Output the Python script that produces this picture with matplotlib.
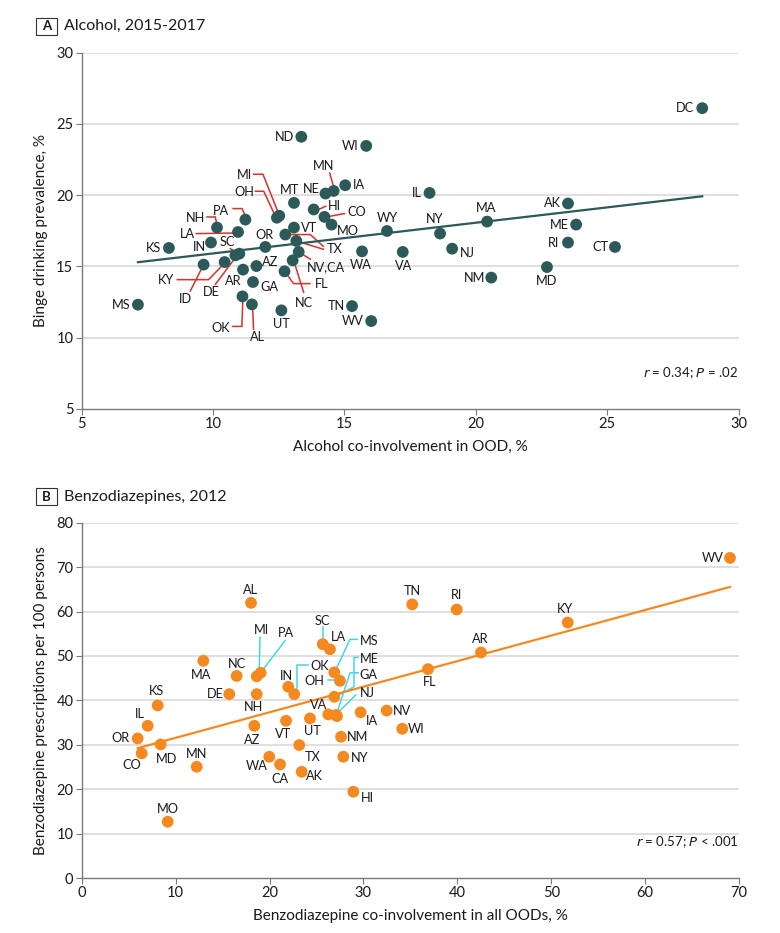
import numpy as np
import matplotlib
matplotlib.use("Agg")
import matplotlib.pyplot as plt
from matplotlib.patches import Rectangle

plt.rcParams['font.family'] = ['Lato', 'DejaVu Sans']

# ---------------- Panel A data: Alcohol, 2015-2017 ----------------
a_states = ["DC", "ND", "WI", "IA", "MN", "NE", "MT", "HI", "CO", "MO", "MI", "OH",
            "PA", "NH", "LA", "VT", "OR", "TX", "NV", "CA", "IN", "KS", "WA", "NC",
            "FL", "SC", "DE", "KY", "ID", "AZ", "AR", "GA", "OK", "AL", "UT", "TN",
            "WV", "MS", "IL", "AK", "ME", "RI", "CT", "MD", "NM", "MA", "NY", "NJ",
            "WY", "VA"]
a_x = [28.62, 13.36, 15.83, 15.03, 14.59, 14.28, 13.08, 13.83, 14.24, 14.51, 12.52, 12.43,
       11.23, 10.15, 10.95, 13.08, 11.99, 12.75, 13.17, 13.26, 9.92, 8.32, 15.67, 13.03,
       12.72, 11.00, 10.85, 10.44, 9.64, 11.65, 11.14, 11.52, 11.12, 11.48, 12.60, 15.29,
       16.02, 7.14, 18.24, 23.51, 23.82, 23.51, 25.30, 22.71, 20.59, 20.43, 18.64, 19.10,
       16.62, 17.22]
a_y = [26.11, 24.10, 23.46, 20.70, 20.30, 20.12, 19.46, 19.00, 18.48, 17.94, 18.56, 18.42,
       18.29, 17.73, 17.42, 17.73, 16.37, 17.24, 16.79, 16.02, 16.68, 16.30, 16.06, 15.43,
       14.66, 15.90, 15.78, 15.31, 15.13, 15.03, 14.78, 13.91, 12.90, 12.34, 11.92, 12.22,
       11.17, 12.32, 20.16, 19.42, 17.94, 16.68, 16.37, 14.96, 14.22, 18.15, 17.31, 16.25,
       17.49, 16.02]
a_xticks = [5, 10, 15, 20, 25, 30]
a_yticks = [5, 10, 15, 20, 25, 30]
a_title = "Alcohol, 2015-2017"
a_xlabel = "Alcohol co-involvement in OOD, %"
a_ylabel = "Binge drinking prevalence, %"
a_stat = ("0.34", "= .02")

# ---------------- Panel B data: Benzodiazepines, 2012 ----------------
b_states = ["WV", "TN", "RI", "KY", "AR", "FL", "AL", "SC", "LA", "MS", "ME", "GA",
            "NJ", "OK", "OH", "MI", "PA", "MA", "NC", "IN", "DE", "NH", "KS", "IL",
            "OR", "CO", "MD", "MN", "MO", "AZ", "VT", "UT", "VA", "IA", "NV", "WI",
            "NM", "TX", "WA", "CA", "AK", "NY", "HI"]
b_x = [69.04, 35.20, 39.94, 51.76, 42.52, 36.88, 18.03, 25.67, 26.44, 26.90, 26.90, 27.19,
       27.08, 22.64, 27.50, 18.64, 19.06, 12.95, 16.50, 22.00, 15.72, 18.64, 8.09, 7.03,
       5.96, 6.39, 8.41, 12.25, 9.16, 18.38, 21.76, 24.31, 26.26, 29.71, 32.48, 34.14,
       27.62, 23.17, 19.98, 21.12, 23.43, 27.86, 28.93]
b_y = [72.07, 61.60, 60.46, 57.53, 50.78, 47.03, 61.95, 52.65, 51.50, 46.30, 40.80, 36.45,
       36.70, 41.40, 44.40, 45.40, 46.20, 48.90, 45.50, 43.05, 41.40, 41.40, 38.85, 34.27,
       31.43, 28.06, 30.08, 25.05, 12.67, 34.27, 35.40, 35.93, 36.84, 37.30, 37.70, 33.60,
       31.80, 29.93, 27.30, 25.58, 23.92, 27.30, 19.42]
b_xticks = [0, 10, 20, 30, 40, 50, 60, 70]
b_yticks = [0, 10, 20, 30, 40, 50, 60, 70, 80]
b_title = "Benzodiazepines, 2012"
b_xlabel = "Benzodiazepine co-involvement in all OODs, %"
b_ylabel = "Benzodiazepine prescriptions per 100 persons"
b_stat = ("0.57", "< .001")

# ---------------- label placement (pixel offsets from the dot, +y down) ----------------
a_label_off = {
    "DC": (-17, 0), "ND": (-17, 0), "WI": (-16, 0), "IA": (14, 0), "MN": (-10, -25),
    "NE": (-14, -5), "MT": (-4, -13), "HI": (21, -3), "CO": (32, -5), "MO": (16, 6),
    "MI": (-35, -41), "OH": (-33, -26), "PA": (-24, -9), "NH": (-22, -10), "LA": (-51, 2),
    "VT": (15, 0), "OR": (-1, -12), "TX": (49, 14), "NV": None, "CA": (27, 15),
    "IN": (-12, 4), "KS": (-15, 0), "WA": (-1, 14), "NC": (11, 43), "FL": (37, 13),
    "SC": (-12, -12), "DE": (-24, 37), "KY": (-59, 18), "ID": (-18, 34), "AZ": (14, -4),
    "AR": (-10, 11), "GA": (16, 5), "OK": (-22, 32), "AL": (6, 33), "UT": (0, 14),
    "TN": (-16, 0), "WV": (-18, 0), "MS": (-17, 0), "IL": (-13, 0), "AK": (-16, 0),
    "ME": (-17, 0), "RI": (-14, 0), "CT": (-15, 0), "MD": (0, 14), "NM": (-17, 0),
    "MA": (-1, -14), "NY": (-5, -15), "NJ": (15, 4), "WY": (0, -13), "VA": (1, 14),
}
a_label_text = {"CA": "NV,CA"}
a_leaders = {
    "MN": [(-4, -18), (0, -4)],
    "MI": [(-25.7, -41.5), (-16.3, -41.5), (-0.3, -1.2)],
    "OH": [(-21.5, -26.5), (-13.2, -26.5), (-1.5, -1.5)],
    "HI": [(5, 0), (12, -3.3)],
    "CO": [(2.7, 0), (20, -3.4)],
    "PA": [(-12.3, -11), (-3.3, -11), (0.3, -2.6)],
    "NH": [(-10, -10.6), (-1.7, -10.6), (0, -2.3)],
    "LA": [(-41.7, 1.6), (-1, 1)],
    "SC": [(-9, -5), (-0.7, 0)],
    "TX": [(0, 0), (25, 0), (38, 11.7)],
    "NV": [(0, 0), (27, 8.3)],
    "CA": [(0, 0), (11.7, 7.3)],
    "FL": [(25.4, 12.3), (9.0, 12.3), (0.7, 0.7)],
    "NC": [(11, 32), (1, 0)],
    "KY": [(-47.3, 17.6), (-16, 17.6), (-0.3, 1.3)],
    "ID": [(-13.3, 26.4), (0, 0)],
    "DE": [(-20, 29), (1.7, 0)],
    "OK": [(-9.6, 30), (-0.6, 30), (0.4, 2.3)],
    "AL": [(1.6, 25), (0.6, 1)],
}

b_label_off = {
    "WV": (-17, 0), "TN": (0, -13), "RI": (0, -14), "KY": (-3, -13), "AR": (-1, -13),
    "FL": (2, 13), "AL": (0, -13), "SC": (0, -23), "LA": (8, -12), "MS": (35, -31),
    "ME": (35, -38), "GA": (31, -41), "NJ": (31, -22), "OK": (25, -28), "OH": (-26, 0),
    "MI": (5, -46), "PA": (25, -40), "MA": (-2, 14), "NC": (0, -12), "IN": (-2, -11),
    "DE": (-14, 0), "NH": (-3, 13), "KS": (-1, -14), "IL": (-8, -12), "OR": (-17, 0),
    "CO": (-10, 12), "MD": (6, 15), "MN": (0, -13), "MO": (0, -13), "AZ": (-2, 14),
    "VT": (-3, 13), "UT": (2, 13), "VA": (-10, -9), "IA": (11, 9), "NV": (15, 0),
    "WI": (14, 0), "NM": (17, 0), "TX": (13, 12), "WA": (-13, 9), "CA": (0, 15),
    "AK": (13, 4), "NY": (16, 1), "HI": (14, 6),
}
b_leaders = {
    "SC": [(0, -16.7), (0, -2.3)],
    "MS": [(23, -33), (15.7, -33), (0.7, -0.6)],
    "ME": [(23.7, -39.4), (19.7, -39.4), (19.7, -10), (2.4, -0.7)],
    "GA": [(21, -43.3), (13, -43.3), (-0.3, -2.7)],
    "NJ": [(19.7, -20), (1.3, -1.7)],
    "OK": [(13.7, -29), (2.4, -29), (2.4, -0.7)],
    "OH": [(-12.3, -0.7), (-2.7, -0.7)],
    "MI": [(3.3, -39.3), (2.3, -1)],
    "PA": [(24.3, -32), (-0.7, 0.6)],
}

W, H = 780, 933
fig = plt.figure(figsize=(W / 100, H / 100), dpi=100)

GRID = "#d9d9d9"
SPINE = "#7a7a7a"
TXT = "#1a1a1a"


def make_axes(left, top, right, bottom):
    return fig.add_axes([left / W, 1 - bottom / H, (right - left) / W, (bottom - top) / H])


def style(ax, xticks, yticks):
    ax.set_xlim(xticks[0], xticks[-1])
    ax.set_ylim(yticks[0], yticks[-1])
    ax.set_xticks(xticks)
    ax.set_yticks(yticks)
    for s in ["top", "right"]:
        ax.spines[s].set_visible(False)
    for s in ["left", "bottom"]:
        ax.spines[s].set_color(SPINE)
        ax.spines[s].set_linewidth(1.0)
    ax.tick_params(axis="both", colors=SPINE, labelcolor=TXT, labelsize=10.5,
                   length=4, width=0.8, direction="out", pad=2)
    for yv in yticks[1:]:
        ax.axhline(yv, color=GRID, lw=1.2, zorder=0)


def leader(ax, x, y, pts, color):
    base = ax.transData.transform((x, y))
    disp = np.array([[base[0] + dx, base[1] - dy] for dx, dy in pts])
    data = ax.transData.inverted().transform(disp)
    ax.plot(data[:, 0], data[:, 1], color=color, lw=1.1, zorder=2,
            solid_joinstyle="miter", clip_on=False)


def panel(ax, states, xs, ys, offs, leaders, dot_color, line_color, lead_color,
          xticks, yticks, xlabel, ylabel, stat, label_text=None):
    style(ax, xticks, yticks)
    xs = np.asarray(xs)
    ys = np.asarray(ys)
    k, b = np.polyfit(xs, ys, 1)
    xl = np.array([xs.min(), xs.max()])
    ax.plot(xl, k * xl + b, color=line_color, lw=1.6, zorder=3)
    for st, x, y in zip(states, xs, ys):
        if st in leaders:
            leader(ax, x, y, leaders[st], lead_color)
    ax.scatter(xs, ys, s=72, color=dot_color, edgecolors="none", zorder=4, clip_on=False)
    for st, x, y in zip(states, xs, ys):
        off = offs.get(st)
        if off is None:
            continue
        txt = (label_text or {}).get(st, st)
        ax.annotate(txt, xy=(x, y), xytext=(off[0], -off[1]), textcoords="offset pixels",
                    ha="center", va="center", fontsize=9.2, color=TXT, zorder=5)
    ax.set_xlabel(xlabel, fontsize=11, color=TXT, labelpad=6)
    ax.set_ylabel(ylabel, fontsize=11, color=TXT, labelpad=6)
    ax.text(1.0, 0.1, r"$\it{r}$ = " + stat[0] + r"; $\it{P}$ " + stat[1],
            transform=ax.transAxes, ha="right", va="center", fontsize=9.5, color=TXT)


def title(letter, text, ybox):
    fig.patches.append(Rectangle((36 / W, 1 - (ybox + 8.5) / H), 21 / W, 17 / H,
                                 transform=fig.transFigure, fill=False,
                                 edgecolor="#333333", lw=0.8))
    fig.text(46.5 / W, 1 - ybox / H, letter, ha="center", va="center",
             fontsize=9.5, fontweight="bold", color=TXT)
    fig.text(64 / W, 1 - ybox / H, text, ha="left", va="center", fontsize=11.5, color=TXT)


axA = make_axes(81.7, 52.7, 738.5, 409)
panel(axA, a_states, a_x, a_y, a_label_off, a_leaders, "#2b5a58", "#2b5a58", "#d9302b",
      a_xticks, a_yticks, a_xlabel, a_ylabel, a_stat, a_label_text)
title("A", a_title, 26)

axB = make_axes(81.7, 522.7, 739, 878)
panel(axB, b_states, b_x, b_y, b_label_off, b_leaders, "#f5891f", "#f5891f", "#3fd8e6",
      b_xticks, b_yticks, b_xlabel, b_ylabel, b_stat)
title("B", b_title, 496.7)

fig.savefig("out.png", dpi=100)
